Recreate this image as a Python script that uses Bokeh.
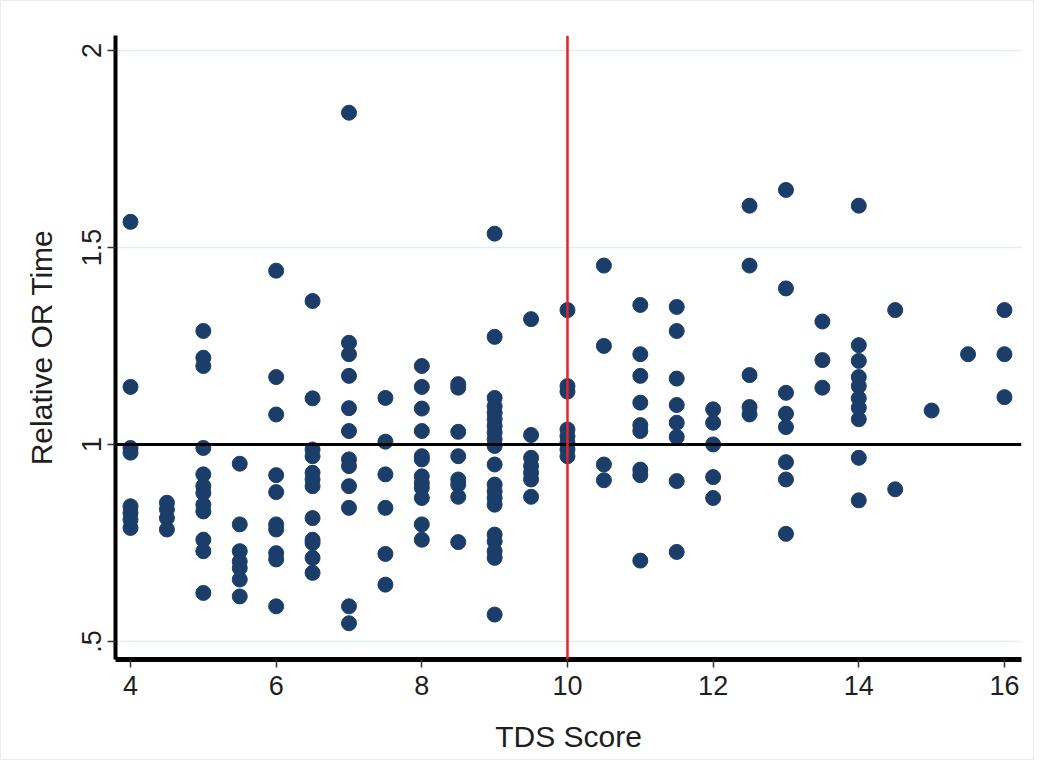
from bokeh.plotting import figure
from bokeh.models import Span, FixedTicker, Range1d, ColumnDataSource
from bokeh.embed import file_html
from bokeh.resources import INLINE

# TDS score groups and the Relative OR Time values
tds_4 = [1.565, 1.146, 0.991, 0.979, 0.843, 0.826, 0.809, 0.788]
tds_4_5 = [0.852, 0.835, 0.813, 0.784]
tds_5 = [1.288, 1.22, 1.199, 0.991, 0.924, 0.894, 0.877, 0.847, 0.830, 0.758, 0.729, 0.623]
tds_5_5 = [0.951, 0.797, 0.729, 0.703, 0.686, 0.657, 0.614]
tds_6 = [1.441, 1.171, 1.076, 0.922, 0.879, 0.797, 0.784, 0.724, 0.708, 0.589]
tds_6_5 = [1.364, 1.117, 0.987, 0.970, 0.928, 0.911, 0.894, 0.813, 0.758, 0.750, 0.712, 0.674]
tds_7 = [1.842, 1.258, 1.229, 1.174, 1.092, 1.034, 0.962, 0.945, 0.894, 0.839, 0.589, 0.546]
tds_7_5 = [1.118, 1.007, 0.924, 0.839, 0.722, 0.644]
tds_8 = [1.199, 1.146, 1.091, 1.034, 0.970, 0.962, 0.919, 0.902, 0.890, 0.864, 0.797, 0.758]
tds_8_5 = [1.153, 1.144, 1.032, 0.970, 0.911, 0.898, 0.867, 0.752]
tds_9 = [1.535, 1.273, 1.118, 1.097, 1.080, 1.064, 1.047, 1.030, 1.013, 0.996, 0.949,
         0.898, 0.881, 0.864, 0.847, 0.771, 0.754, 0.729, 0.712, 0.568]
tds_9_5 = [1.318, 1.024, 0.966, 0.945, 0.928, 0.911, 0.867]
tds_10 = [1.341, 1.148, 1.134, 1.038, 1.021, 1.004, 0.987, 0.970]
tds_10_5 = [1.454, 1.250, 0.949, 0.909]
tds_11 = [1.354, 1.229, 1.174, 1.106, 1.049, 1.034, 0.936, 0.922, 0.705]
tds_11_5 = [1.349, 1.288, 1.167, 1.100, 1.055, 1.019, 0.907, 0.727]
tds_12 = [1.089, 1.055, 1.000, 0.917, 0.864]
tds_12_5 = [1.606, 1.454, 1.176, 1.095, 1.076]
tds_13 = [1.646, 1.396, 1.131, 1.078, 1.044, 0.955, 0.911, 0.773]
tds_13_5 = [1.312, 1.214, 1.144]
tds_14 = [1.606, 1.252, 1.212, 1.171, 1.148, 1.117, 1.093, 1.064, 0.966, 0.858]
tds_14_5 = [1.341, 0.886]
tds_15 = [1.086]
tds_15_5 = [1.229]
tds_16 = [1.341, 1.229, 1.120]

groups = {4: tds_4, 4.5: tds_4_5, 5: tds_5, 5.5: tds_5_5, 6: tds_6, 6.5: tds_6_5,
          7: tds_7, 7.5: tds_7_5, 8: tds_8, 8.5: tds_8_5, 9: tds_9, 9.5: tds_9_5,
          10: tds_10, 10.5: tds_10_5, 11: tds_11, 11.5: tds_11_5, 12: tds_12,
          12.5: tds_12_5, 13: tds_13, 13.5: tds_13_5, 14: tds_14, 14.5: tds_14_5,
          15: tds_15, 15.5: tds_15_5, 16: tds_16}

x_ticks = [4, 6, 8, 10, 12, 14, 16]
y_ticks = [0.5, 1, 1.5, 2]
y_tick_labels = {0.5: ".5", 1: "1", 1.5: "1.5", 2: "2"}
cutoff_x = 10
reference_y = 1

xs, ys = [], []
for k, vals in groups.items():
    for v in vals:
        xs.append(k)
        ys.append(v)
src = ColumnDataSource(dict(x=xs, y=ys))

p = figure(width=1034, height=760, output_backend="svg", toolbar_location=None,
           x_range=Range1d(3.794, 16.234), y_range=Range1d(0.454, 2.038),
           min_border_left=114, min_border_right=14, min_border_top=34, min_border_bottom=102)
p.background_fill_color = "white"
p.border_fill_color = "white"
p.outline_line_color = None
p.styles = {"border": "1px solid #e8eeee"}

FONT = "Liberation Sans"
TXT = "#1e1e1e"

p.xgrid.visible = False
p.ygrid.ticker = FixedTicker(ticks=y_ticks)
p.ygrid.grid_line_color = "#e4eef0"
p.ygrid.grid_line_width = 1.5

p.xaxis.ticker = FixedTicker(ticks=x_ticks)
p.yaxis.ticker = FixedTicker(ticks=y_ticks)
p.yaxis.major_label_overrides = y_tick_labels
p.yaxis.major_label_orientation = "vertical"

for ax in (p.xaxis, p.yaxis):
    ax.axis_line_color = "black"
    ax.major_tick_line_color = "#333333"
    ax.major_tick_line_width = 1.5
    ax.major_tick_out = 8
    ax.major_tick_in = 0
    ax.minor_tick_line_color = None
    ax.major_label_text_font = FONT
    ax.major_label_text_font_size = "27px"
    ax.major_label_text_color = TXT
    ax.axis_label_text_font = FONT
    ax.axis_label_text_font_size = "30px"
    ax.axis_label_text_font_style = "normal"
    ax.axis_label_text_color = TXT

p.xaxis.axis_line_width = 5
p.yaxis.axis_line_width = 4
p.xaxis.major_label_standoff = 8
p.yaxis.major_label_standoff = 6
p.xaxis.axis_label = "TDS Score"
p.yaxis.axis_label = "Relative OR Time"
p.xaxis.axis_label_standoff = 22
p.yaxis.axis_label_standoff = 22

p.add_layout(Span(location=reference_y, dimension="width", line_color="black", line_width=3))
p.add_layout(Span(location=cutoff_x, dimension="height", line_color="#e3242b", line_width=2.5))

p.scatter("x", "y", source=src, size=15, fill_color="#1b3d69", line_color="#1b3d69")

open("out.html", "w").write(file_html(p, INLINE))
